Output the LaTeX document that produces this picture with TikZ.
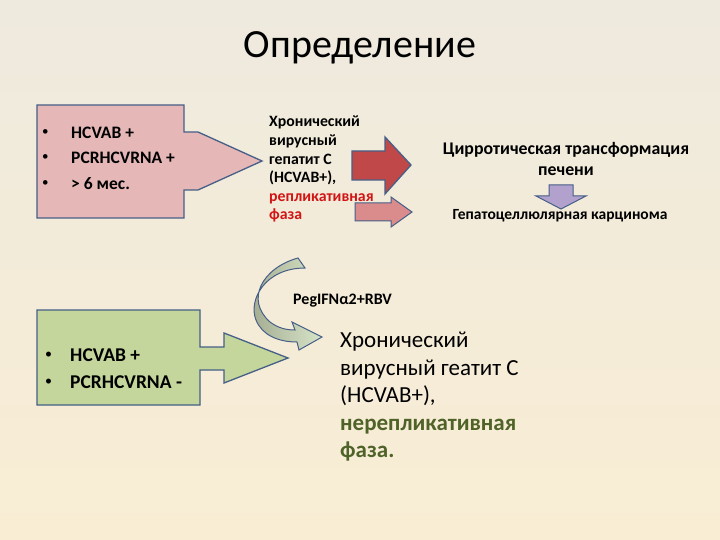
\documentclass[tikz,border=0pt]{standalone}
\usepackage{fontspec}
\setmainfont{Carlito}
\begin{document}
\begin{tikzpicture}[x=1pt,y=-1pt,
  txt/.style={anchor=west,inner sep=0pt},
  edge/.style={draw=bord,line width=1.3pt,line join=miter}]
\definecolor{bord}{RGB}{70,95,135}
\definecolor{pinkf}{RGB}{229,183,183}
\definecolor{greenf}{RGB}{196,214,155}
\definecolor{redf}{RGB}{192,72,72}
\definecolor{pink2}{RGB}{218,140,140}
\definecolor{purp}{RGB}{178,160,205}
\definecolor{dgreen}{RGB}{79,98,40}
\definecolor{rtxt}{RGB}{210,20,20}
\useasboundingbox (0,0) rectangle (720,540);
\shade[top color={rgb,255:red,238;green,234;blue,222},bottom color={rgb,255:red,249;green,237;blue,212}] (0,0) rectangle (720,540);
\node[font=\fontsize{40}{42}\selectfont] (title) at (360,48) {Определение};
% pink callout
\path[edge,fill=pinkf] (37,105)--(184,105)--(184,132)--(198,132)--(262,161)--(198,190)--(184,190)--(184,218)--(37,218)--cycle;
\tikzset{bfont/.style={font=\fontsize{17.5}{19}\selectfont\bfseries}, bul/.style={font=\fontsize{13}{14}\selectfont}}
\node[txt,bul] (b1) at (42,133) {•};
\node[txt,bul] (b2) at (42,158) {•};
\node[txt,bul] (b3) at (42,184) {•};
\node[txt,bfont] (t1) at (71,133) {HCVAB +};
\node[txt,bfont] (t2) at (71,158) {PCRHCVRNA +};
\node[txt,bfont] (t3) at (71,184) {> 6 мес.};
% middle text
\node[anchor=north west,inner sep=0pt,align=left,font=\fontsize{15.8}{18.6}\selectfont\bfseries] (mid) at (269,116) {Хронический\\вирусный\\гепатит С\\(HCVAB+),\\\textcolor{rtxt}{репликативная}\\\textcolor{rtxt}{фаза}};
% red arrows
\path[edge,fill=redf] (352,151)--(385,151)--(385,137)--(411,165)--(385,194)--(385,180)--(352,180)--cycle;
\path[edge,fill=pink2,line width=1pt] (355,203)--(391,203)--(391,197)--(412,212)--(391,227)--(391,221)--(355,221)--cycle;
\node[font=\fontsize{17.8}{19}\selectfont\bfseries] (cir) at (566,150) {Цирротическая трансформация};
\node[font=\fontsize{17.8}{19}\selectfont\bfseries] (pech) at (566,171) {печени};
\path[edge,fill=purp,line width=1pt] (549,185)--(573,185)--(573,196)--(586,196)--(561,209)--(536,196)--(549,196)--cycle;
\node[font=\fontsize{15.5}{17}\selectfont\bfseries] (gep) at (560,216) {Гепатоцеллюлярная карцинома};
% curved arrow
\path[edge,line width=1pt,left color={rgb,255:red,160;green,168;blue,140},right color={rgb,255:red,215;green,228;blue,200}]
 (298,258) .. controls (262,268) and (245,300) .. (270,322) .. controls (278,328) and (286,330) .. (295,330)
 -- (292,322) -- (322,337) -- (299,350) -- (297,342)
 .. controls (278,342) and (262,335) .. (256,320) .. controls (248,300) and (265,268) .. (305,268) -- cycle;
\node[txt,font=\fontsize{16}{17}\selectfont\bfseries] (peg) at (293,301) {PegIFNα2+RBV};
% green callout
\path[edge,fill=greenf] (37,310)--(200,310)--(200,347)--(224,347)--(224,333)--(288,358)--(224,383)--(224,370)--(200,370)--(200,405)--(37,405)--cycle;
\node[txt,font=\fontsize{14}{15}\selectfont] (g1) at (45,355) {•};
\node[txt,font=\fontsize{14}{15}\selectfont] (g2) at (45,382) {•};
\node[txt,font=\fontsize{19.5}{20}\selectfont\bfseries] (gt1) at (70,355) {HCVAB +};
\node[txt,font=\fontsize{19.5}{20}\selectfont\bfseries] (gt2) at (70,382) {PCRHCVRNA -};
\node[anchor=north west,inner sep=0pt,align=left,font=\fontsize{23}{27.5}\selectfont] (res) at (340,332) {Хронический\\вирусный геатит С\\(HCVAB+),\\\textcolor{dgreen}{\bfseries нерепликативная}\\\textcolor{dgreen}{\bfseries фаза.}};
\end{tikzpicture}
\end{document}
